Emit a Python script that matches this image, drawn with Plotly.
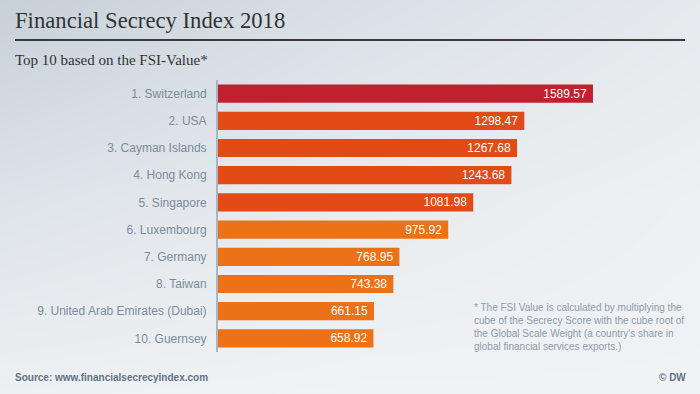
import plotly.graph_objects as go

countries = ["1. Switzerland", "2. USA", "3. Cayman Islands", "4. Hong Kong", "5. Singapore",
             "6. Luxembourg", "7. Germany", "8. Taiwan", "9. United Arab Emirates (Dubai)", "10. Guernsey"]
values = [1589.57, 1298.47, 1267.68, 1243.68, 1081.98, 975.92, 768.95, 743.38, 661.15, 658.92]
colors = ["#c1212f"] + ["#e24a16"] * 4 + ["#ec7117"] * 5

W, H = 700, 394
L, R, T, B = 218, 20, 80, 42
scale = 0.2359
xmax = (W - L - R) / scale

fig = go.Figure()

# background gradient (decoration) on full-paper axes
fig.add_trace(go.Heatmap(
    z=[[0.0, 0.45, 0.75], [0.55, 0.8, 0.95], [0.95, 1.0, 1.0]],
    x=[0, 0.5, 1], y=[1, 0.5, 0],
    colorscale=[[0, "#c6d0d9"], [1, "#f0f2f4"]],
    zsmooth="best", showscale=False, hoverinfo="skip",
    xaxis="x", yaxis="y",
))

fig.add_trace(go.Bar(
    x=values, y=countries, orientation="h",
    marker=dict(color=colors, line=dict(width=0)),
    text=[f"{v:.2f}\u00a0" for v in values], textposition="inside",
    insidetextanchor="end", textangle=0, constraintext="none",
    textfont=dict(color="white", size=12, family="Liberation Sans, Arial, sans-serif"),
    cliponaxis=False, xaxis="x2", yaxis="y2", hoverinfo="skip",
))

fig.update_layout(
    width=W, height=H,
    margin=dict(l=0, r=0, t=0, b=0),
    paper_bgcolor="#eef0f2", plot_bgcolor="rgba(0,0,0,0)",
    showlegend=False, bargap=0.33,
    xaxis=dict(domain=[0, 1], range=[0, 1], visible=False, fixedrange=True),
    yaxis=dict(domain=[0, 1], range=[0, 1], visible=False, fixedrange=True),
    xaxis2=dict(domain=[L / W, 1 - R / W], range=[0, xmax], visible=False, anchor="y2"),
    yaxis2=dict(domain=[B / H, 1 - T / H], anchor="x2", autorange="reversed",
                showline=True, linecolor="#a9b6c2", linewidth=2, showgrid=False,
                ticks="", ticklabelstandoff=7,
                tickfont=dict(size=12, color="#7b8c9c", family="Liberation Sans, Arial, sans-serif")),
    font=dict(family="Liberation Sans, Arial, sans-serif"),
)

fig.add_shape(type="line", xref="paper", yref="paper",
              x0=15 / W, x1=685 / W, y0=1 - 40 / H, y1=1 - 40 / H,
              line=dict(color="#3a3a3a", width=2))

fig.add_annotation(text="Financial Secrecy Index 2018", xref="paper", yref="paper",
                   x=13 / W, y=1 - 21 / H, xanchor="left", yanchor="middle", showarrow=False,
                   font=dict(family="Georgia, Liberation Serif, DejaVu Serif, serif", size=22.7, color="#333333"))
fig.add_annotation(text="Top 10 based on the FSI-Value*", xref="paper", yref="paper",
                   x=13 / W, y=1 - 60 / H, xanchor="left", yanchor="middle", showarrow=False,
                   font=dict(family="Georgia, Liberation Serif, DejaVu Serif, serif", size=15, color="#333333"))
fig.add_annotation(text="* The FSI Value is calculated by multiplying the<br>cube of the Secrecy Score with the cube root of<br>the Global Scale Weight (a country's share in<br>global financial services exports.)",
                   xref="paper", yref="paper", x=472 / W, y=1 - 300 / H, xanchor="left", yanchor="top",
                   align="left", showarrow=False,
                   font=dict(size=10, color="#8d9bab"))
fig.add_annotation(text="<b>Source: www.financialsecrecyindex.com</b>", xref="paper", yref="paper",
                   x=13 / W, y=1 - 377 / H, xanchor="left", yanchor="middle", showarrow=False,
                   font=dict(size=10, color="#607386"))
fig.add_annotation(text="<b>© DW</b>", xref="paper", yref="paper",
                   x=688 / W, y=1 - 377 / H, xanchor="right", yanchor="middle", showarrow=False,
                   font=dict(size=10, color="#607386"))

fig.write_html("out.html", config={"displayModeBar": False},
               post_script="document.body.style.margin='0';document.body.style.overflow='hidden';")
